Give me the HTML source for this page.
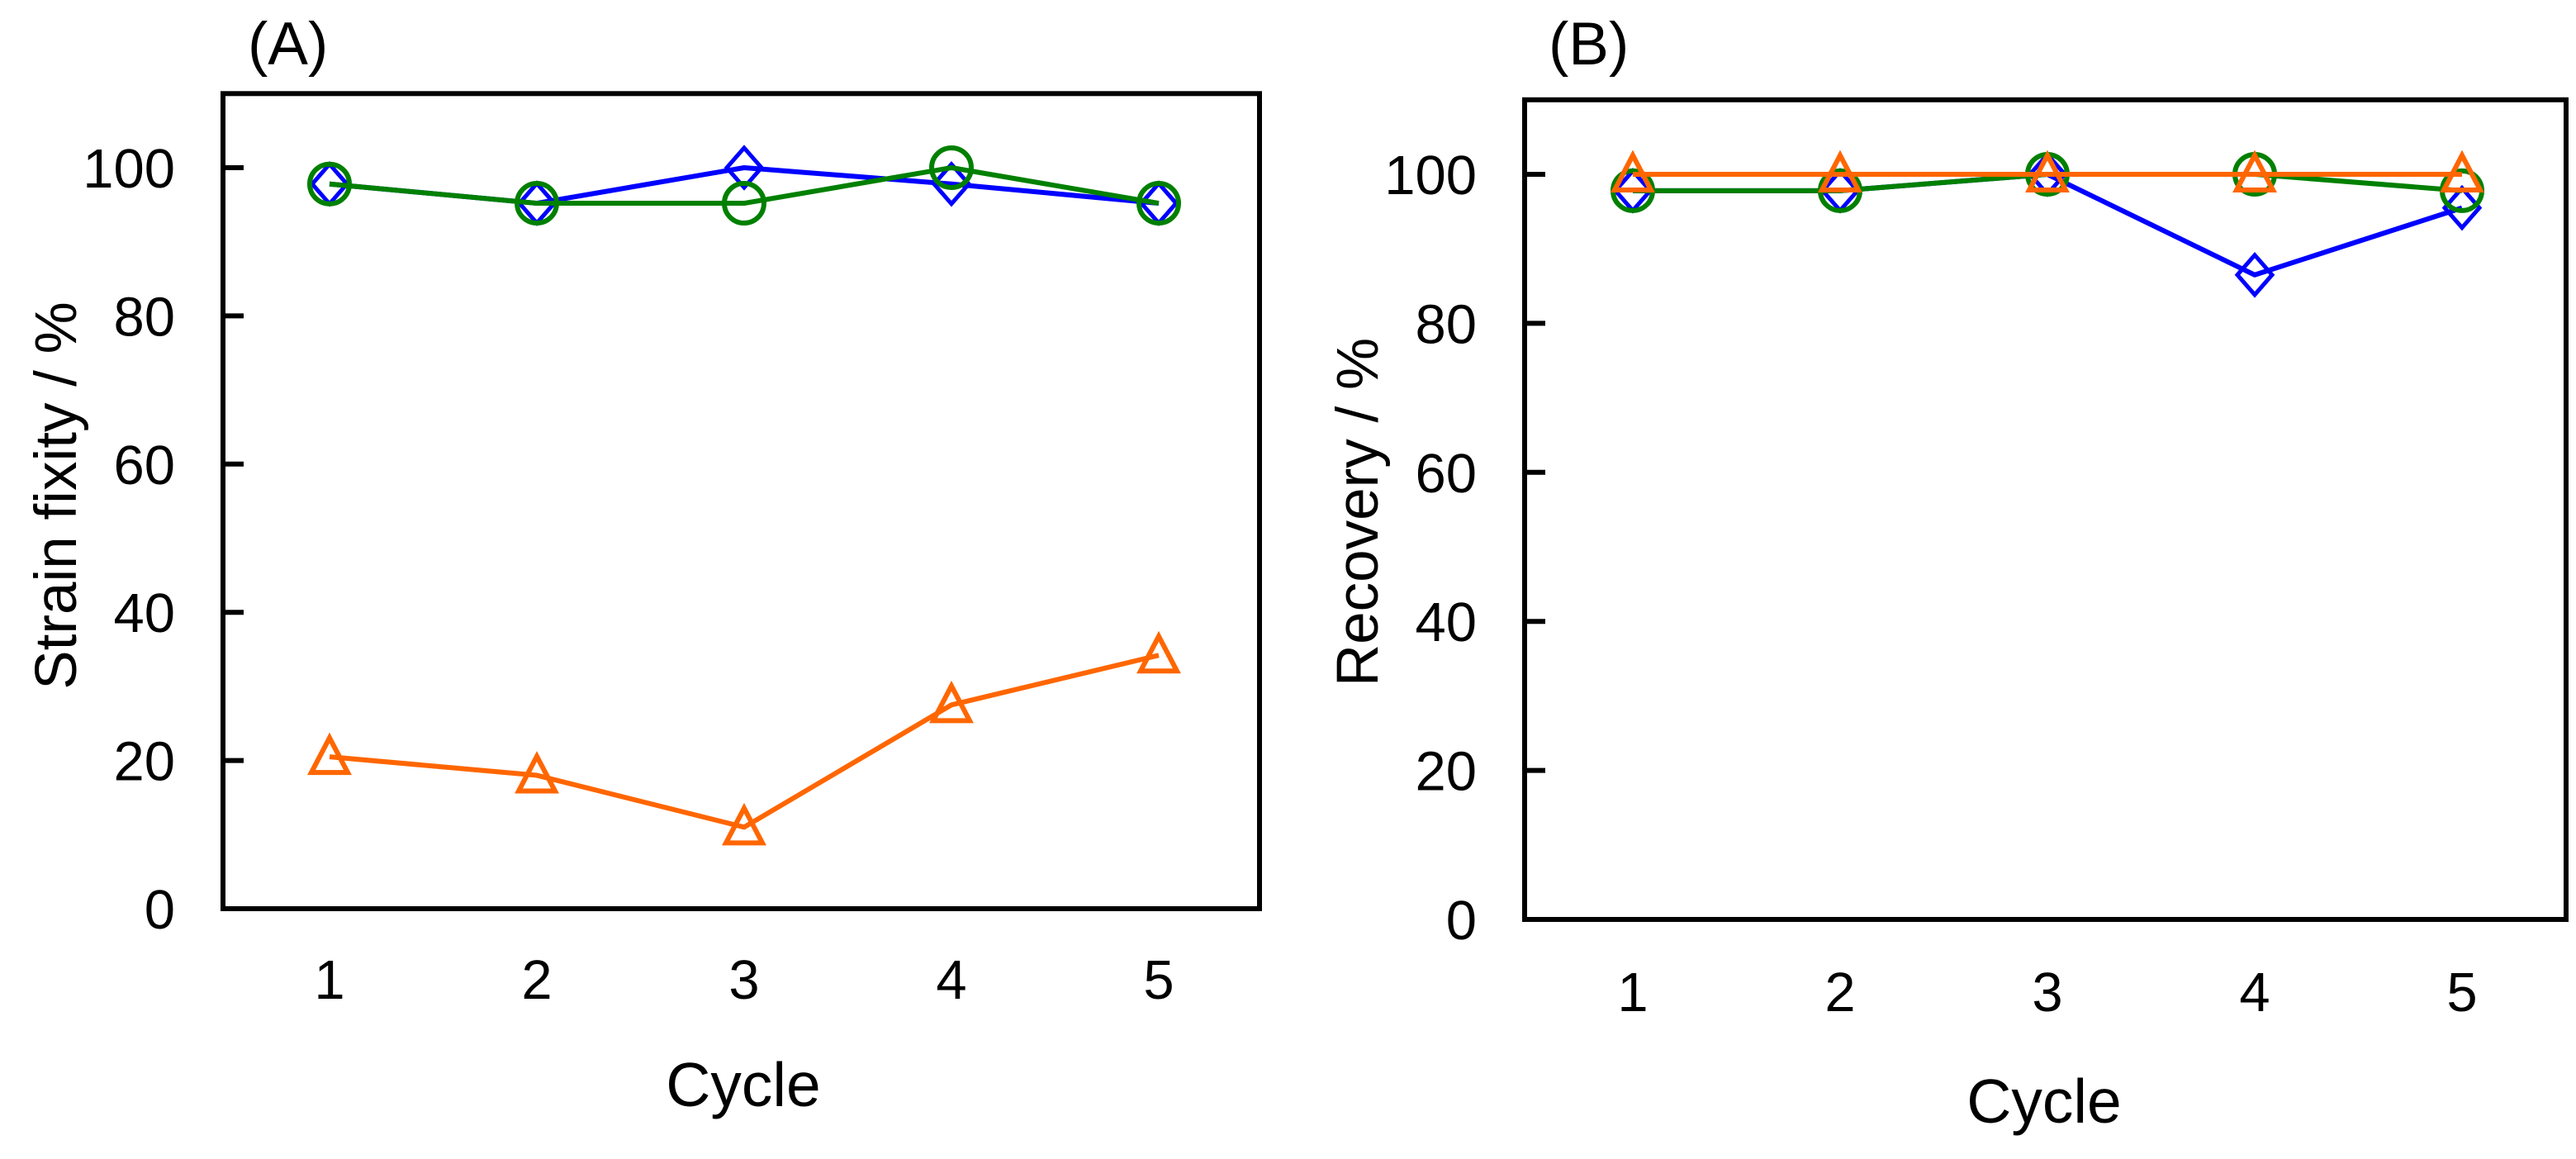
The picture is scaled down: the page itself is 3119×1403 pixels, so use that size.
<!DOCTYPE html>
<html><head><meta charset="utf-8"><style>
html,body{margin:0;padding:0;background:#fff;}
svg{display:block;font-family:"Liberation Sans",Arial,sans-serif;}
</style></head><body>
<svg id="chart" width="3119" height="1403" viewBox="0 0 3119 1403" xmlns="http://www.w3.org/2000/svg"></svg>
<script>
const cycles = [1, 2, 3, 4, 5];
const yTicks = [0, 20, 40, 60, 80, 100];
const fixityBlue = [97.8, 95.2, 100, 97.8, 95.2];
const fixityGreen = [97.8, 95.2, 95.2, 100, 95.2];
const fixityOrange = [20.5, 18, 11, 27.5, 34.2];
const recoveryBlue = [97.8, 97.8, 100, 86.5, 95.5];
const recoveryGreen = [97.8, 97.8, 100, 100, 97.8];
const recoveryOrange = [100, 100, 100, 100, 100];

const NS = "http://www.w3.org/2000/svg";
const svg = document.getElementById('chart');
function mk(tag, attrs, parent){
  const e = document.createElementNS(NS, tag);
  for (const k in attrs) e.setAttribute(k, attrs[k]);
  (parent||svg).appendChild(e);
  return e;
}
const BLUE="#0000ff", GREEN="#008000", ORANGE="#ff6600";

function panel(cfg){
  const g = mk('g', {});
  
  
  const xs = v => cfg.x1 + (v-1)*cfg.dx;
  const ys = v => cfg.y0 - v*cfg.ky;
  const top = ys(110);
  const box = mk('rect', {x:cfg.left, y:top, width:cfg.right-cfg.left, height:cfg.y0-top, fill:'none', stroke:'#000', 'stroke-width':6}, g);
  
  
  yTicks.forEach(t => {
    const tk = mk('line', {x1:cfg.left, x2:cfg.left+25, y1:ys(t), y2:ys(t), stroke:'#000', 'stroke-width':6}, g);
    
    
    const lb = mk('text', {x:cfg.left-58, y:ys(t)+24, 'text-anchor':'end', 'font-size':67, fill:'#000'}, g);
    lb.textContent = t;
    
    
  });
  cycles.forEach(c => {
    const lb = mk('text', {x:xs(c), y:cfg.xlabY, 'text-anchor':'middle', 'font-size':67, fill:'#000'}, g);
    lb.textContent = c;
    
    
  });
  const xt = mk('text', {x:cfg.xtitleX, y:cfg.xtitleY, 'text-anchor':'middle', 'font-size':75, fill:'#000'}, g);
  xt.textContent = 'Cycle';
  
  
  const yt = mk('text', {x:0, y:0, 'text-anchor':'middle', 'font-size':71, fill:'#000', transform:`translate(${cfg.ytitleX},${cfg.ytitleY}) rotate(-90)`}, g);
  yt.textContent = cfg.ytitle;
  
  
  const pl = mk('text', {x:cfg.labelX, y:78, 'font-size':73, fill:'#000'}, g);
  pl.textContent = cfg.label;
  
  

  cfg.series.forEach(s => {
    const sg = mk('g', {}, g);
    
    
    const pts = s.data.map((v,i) => xs(cycles[i]) + ',' + ys(v)).join(' ');
    const ln = mk('polyline', {points:pts, fill:'none', stroke:s.color, 'stroke-width':6, 'stroke-linejoin':'round'}, sg);
    
    
    s.data.forEach((v,i) => {
      const x = xs(cycles[i]), y = ys(v);
      let m;
      if (s.marker === 'circle') m = mk('circle', {cx:x, cy:y, r:24, fill:'none', stroke:s.color, 'stroke-width':6}, sg);
      else if (s.marker === 'diamond') m = mk('polygon', {points:`${x},${y-24} ${x+21},${y} ${x},${y+24} ${x-21},${y}`, fill:'none', stroke:s.color, 'stroke-width':5}, sg);
      else m = mk('polygon', {points:`${x},${y-23} ${x+22},${y+19} ${x-22},${y+19}`, fill:'none', stroke:s.color, 'stroke-width':6}, sg);
      
      
    });
  });
}

panel({name:'panel-a-strain-fixity', left:270, right:1525, y0:1100, ky:8.97, x1:399, dx:251,
  xlabY:1209, xtitleX:900, xtitleY:1339, ytitle:'Strain fixity / %', ytitleX:92, ytitleY:600,
  label:'(A)', labelX:300,
  series:[
    {name:'series-orange-triangle', data:fixityOrange, color:ORANGE, marker:'triangle'},
    {name:'series-blue-diamond', data:fixityBlue, color:BLUE, marker:'diamond'},
    {name:'series-green-circle', data:fixityGreen, color:GREEN, marker:'circle'}
  ]});
panel({name:'panel-b-recovery', left:1846, right:3107, y0:1113, ky:9.02, x1:1977, dx:251,
  xlabY:1224, xtitleX:2475, xtitleY:1359, ytitle:'Recovery / %', ytitleX:1668, ytitleY:620,
  label:'(B)', labelX:1875,
  series:[
    {name:'series-blue-diamond', data:recoveryBlue, color:BLUE, marker:'diamond'},
    {name:'series-green-circle', data:recoveryGreen, color:GREEN, marker:'circle'},
    {name:'series-orange-triangle', data:recoveryOrange, color:ORANGE, marker:'triangle'}
  ]});
</script>
</body></html>
